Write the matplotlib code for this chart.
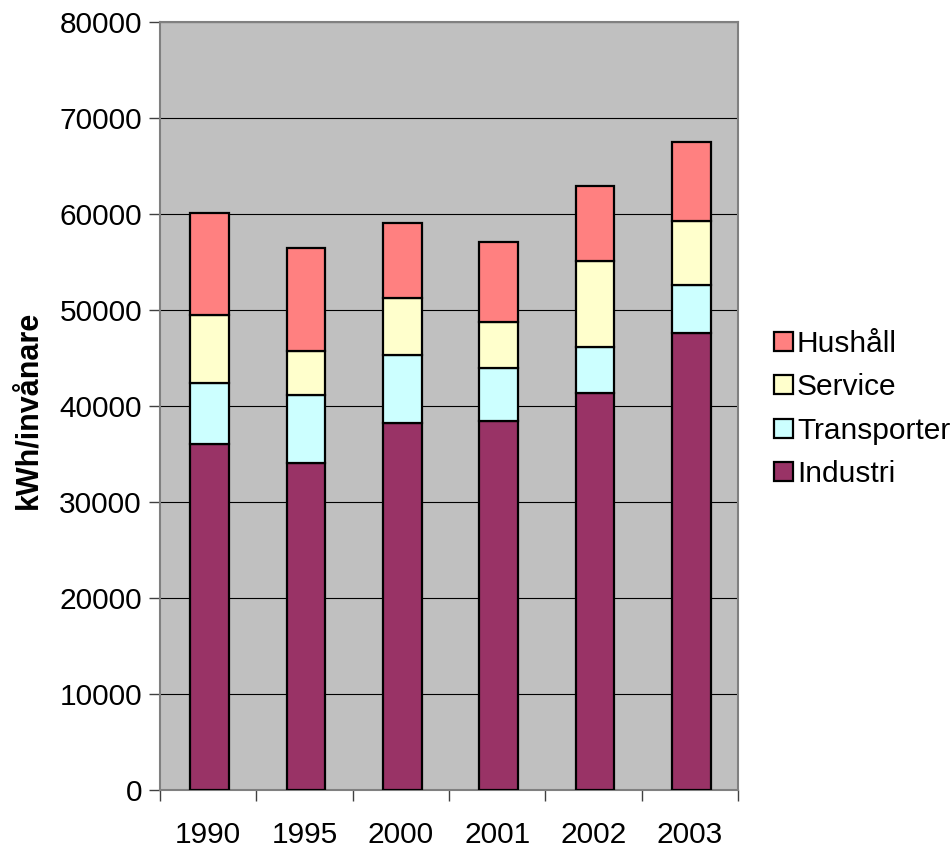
import matplotlib
matplotlib.use("Agg")
import matplotlib.pyplot as plt
import numpy as np

years = ["1990", "1995", "2000", "2001", "2002", "2003"]
industri = [36040, 34100, 38230, 38410, 41320, 47650]
transporter = [6320, 7010, 7120, 5550, 4790, 5000]
service = [7120, 4620, 5900, 4830, 8990, 6620]
hushall = [10620, 10770, 7810, 8260, 7790, 8200]

plt.rcParams['font.family'] = ['Liberation Sans', 'DejaVu Sans']

fig = plt.figure(figsize=(9.5, 8.48), dpi=100)
ax = fig.add_axes([160/950, 1-790/848, 578/950, 768/848])
ax.set_facecolor('#C0C0C0')

x = np.arange(len(years))
w = 0.4
series = [("Industri", industri, '#993366'),
          ("Transporter", transporter, '#CCFFFF'),
          ("Service", service, '#FFFFCC'),
          ("Hushåll", hushall, '#FF8080')]
bottom = np.zeros(len(years))
handles = []
for name, vals, col in series:
    b = ax.bar(x + 0.015, vals, w, bottom=bottom, color=col, edgecolor='black',
               linewidth=1.6, label=name, zorder=3)
    handles.append(b)
    bottom += np.array(vals)

ax.set_ylim(0, 80000)
ax.set_yticks(np.arange(0, 80001, 10000))
ax.yaxis.grid(True, color='black', linewidth=0.8, zorder=0)
ax.set_xlim(-0.5, len(years) - 0.5)
ax.set_xticks(np.arange(-0.5, len(years), 1.0))
ax.set_xticklabels([])
ax.set_xticks(x, minor=True)
ax.set_xticklabels(years, minor=True)
ax.tick_params(axis='x', which='minor', length=0, labelsize=21.5, pad=22)
ax.tick_params(axis='x', which='major', direction='out', length=8, width=1, color='#404040')
ax.tick_params(axis='y', direction='out', length=8, width=1, color='#404040', labelsize=21.5, pad=5)

for s in ax.spines.values():
    s.set_color('#808080')
    s.set_linewidth(1.5)

ax.set_ylabel("kWh/invånare", fontsize=22, fontweight='bold')
ax.yaxis.set_label_coords((43 - 160) / 578, (790 - 410) / 768)

leg = fig.legend(handles[::-1], [s[0] for s in series][::-1], loc='center left',
                 bbox_to_anchor=(762/950, 1-409/848), frameon=False, fontsize=21.5,
                 handlelength=0.65, handleheight=0.6, handletextpad=0.12,
                 labelspacing=0.52, borderaxespad=0)

fig.savefig("out.png", dpi=100, facecolor='white')
